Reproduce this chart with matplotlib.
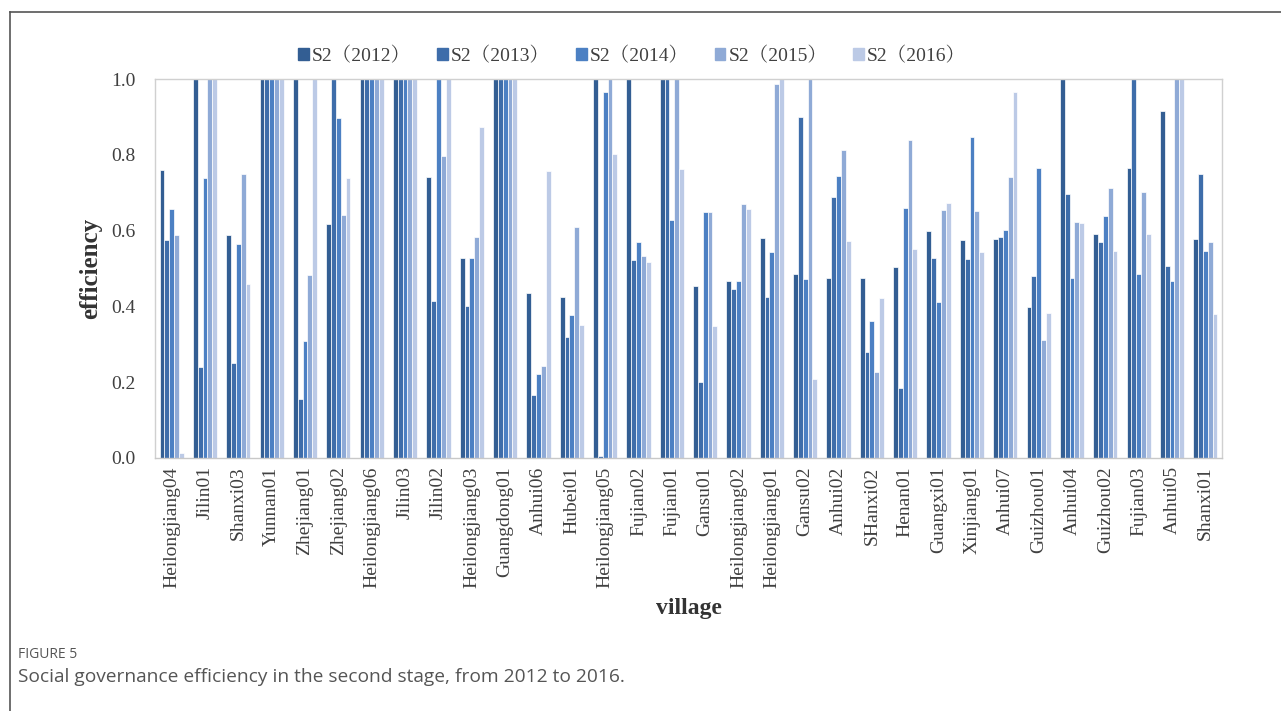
import numpy as np
import matplotlib.pyplot as plt
from matplotlib.lines import Line2D

villages = ['Heilongjiang04', 'Jilin01', 'Shanxi03', 'Yunnan01', 'Zhejiang01', 'Zhejiang02',
            'Heilongjiang06', 'Jilin03', 'Jilin02', 'Heilongjiang03', 'Guangdong01', 'Anhui06',
            'Hubei01', 'Heilongjiang05', 'Fujian02', 'Fujian01', 'Gansu01', 'Heilongjiang02',
            'Heilongjiang01', 'Gansu02', 'Anhui02', 'SHanxi02', 'Henan01', 'Guangxi01',
            'Xinjiang01', 'Anhui07', 'Guizhou01', 'Anhui04', 'Guizhou02', 'Fujian03',
            'Anhui05', 'Shanxi01']

s2_2012 = [0.761, 1.0, 0.588, 1.0, 1.0, 0.617, 1.0, 1.0, 0.741, 0.529, 1.0, 0.435,
           0.425, 1.0, 1.0, 1.0, 0.455, 0.468, 0.581, 0.485, 0.475, 0.475, 0.503, 0.598,
           0.574, 0.577, 0.398, 1.0, 0.590, 0.765, 0.916, 0.577]
s2_2013 = [0.574, 0.240, 0.250, 1.0, 0.155, 1.0, 1.0, 1.0, 0.414, 0.400, 1.0, 0.166,
           0.319, 0.006, 0.522, 1.0, 0.200, 0.445, 0.425, 0.900, 0.688, 0.279, 0.184, 0.527,
           0.524, 0.583, 0.479, 0.696, 0.570, 1.0, 0.507, 0.750]
s2_2014 = [0.657, 0.740, 0.565, 1.0, 0.308, 0.898, 1.0, 1.0, 1.0, 0.527, 1.0, 0.221,
           0.377, 0.967, 0.570, 0.629, 0.650, 0.466, 0.544, 0.472, 0.743, 0.362, 0.660, 0.412,
           0.846, 0.601, 0.765, 0.475, 0.638, 0.485, 0.466, 0.547]
s2_2015 = [0.588, 1.0, 0.749, 1.0, 0.482, 0.640, 1.0, 1.0, 0.798, 0.583, 1.0, 0.243,
           0.609, 1.0, 0.533, 1.0, 0.650, 0.670, 0.987, 1.0, 0.813, 0.227, 0.839, 0.654,
           0.652, 0.742, 0.312, 0.624, 0.712, 0.703, 1.0, 0.570]
s2_2016 = [0.012, 1.0, 0.458, 1.0, 1.0, 0.738, 1.0, 1.0, 1.0, 0.873, 1.0, 0.757,
           0.351, 0.802, 0.518, 0.763, 0.349, 0.657, 1.0, 0.209, 0.572, 0.422, 0.551, 0.672,
           0.544, 0.967, 0.382, 0.620, 0.546, 0.592, 1.0, 0.380]

series = [s2_2012, s2_2013, s2_2014, s2_2015, s2_2016]
labels = ['S2（2012）', 'S2（2013）', 'S2（2014）', 'S2（2015）', 'S2（2016）']
colors = ['#335E93', '#3E6DAA', '#4C80C3', '#8FAAD6', '#BCCAE6']

serif = ['Liberation Serif', 'Noto Serif CJK SC', 'Noto Sans CJK SC', 'DejaVu Serif']
plt.rcParams['font.family'] = serif

fig = plt.figure(figsize=(12.81, 7.11), dpi=100)
ax = fig.add_axes([155 / 1281, 1 - 458 / 711, (1222 - 155) / 1281, (458 - 79) / 711])

x = np.arange(len(villages))
w = 0.145
for i in range(5):
    ax.bar(x + (i - 2) * w, series[i], width=w, color=colors[i],
           edgecolor='white', linewidth=0.5, label=labels[i], zorder=2)

ax.set_xlim(-0.5, len(villages) - 0.5)
ax.set_ylim(0, 1.0)
ax.set_yticks([0.0, 0.2, 0.4, 0.6, 0.8, 1.0])
ax.set_yticklabels(['0.0', '0.2', '0.4', '0.6', '0.8', '1.0'], fontsize=14, color='#404040')
ax.set_xticks(x)
ax.set_xticklabels(villages, rotation=90, fontsize=14, color='#404040')
ax.tick_params(axis='both', length=0)
ax.tick_params(axis='x', pad=6)
ax.tick_params(axis='y', pad=14)
for sp in ax.spines.values():
    sp.set_color('#d0d0d0')
    sp.set_linewidth(1.0)
ax.spines['bottom'].set_color('#c8c8c8')
ax.set_ylabel('efficiency', fontsize=18, fontweight='bold', color='#333333')
ax.yaxis.set_label_coords(-0.050, 0.5)
ax.set_xlabel('village', fontsize=17, fontweight='bold', color='#333333')
ax.xaxis.set_label_coords(0.5, -0.396)
ax.xaxis.label.set_va('center')

handles = [plt.Rectangle((0, 0), 1, 1, color=c) for c in colors]
fig.legend(handles, labels, loc='center', bbox_to_anchor=(632 / 1281, 1 - 56 / 711),
           ncol=5, frameon=False, fontsize=14, handlelength=0.55, handleheight=0.55,
           handletextpad=0.15, columnspacing=1.35, labelcolor='#404040')

# figure frame and caption
fig.add_artist(Line2D([10 / 1281, 10 / 1281], [0, 1 - 12 / 711], color='#555555', linewidth=1.2))
fig.add_artist(Line2D([10 / 1281, 1], [1 - 12 / 711, 1 - 12 / 711], color='#555555', linewidth=1.2))
fig.text(18 / 1281, 1 - 655 / 711, 'FIGURE 5', fontsize=10, color='#555555',
         family='Open Sans', va='center')
fig.text(18 / 1281, 1 - 677 / 711, 'Social governance efficiency in the second stage, from 2012 to 2016.',
         fontsize=13.8, color='#555555', family='Open Sans', va='center')

fig.savefig('out.png', dpi=100)
